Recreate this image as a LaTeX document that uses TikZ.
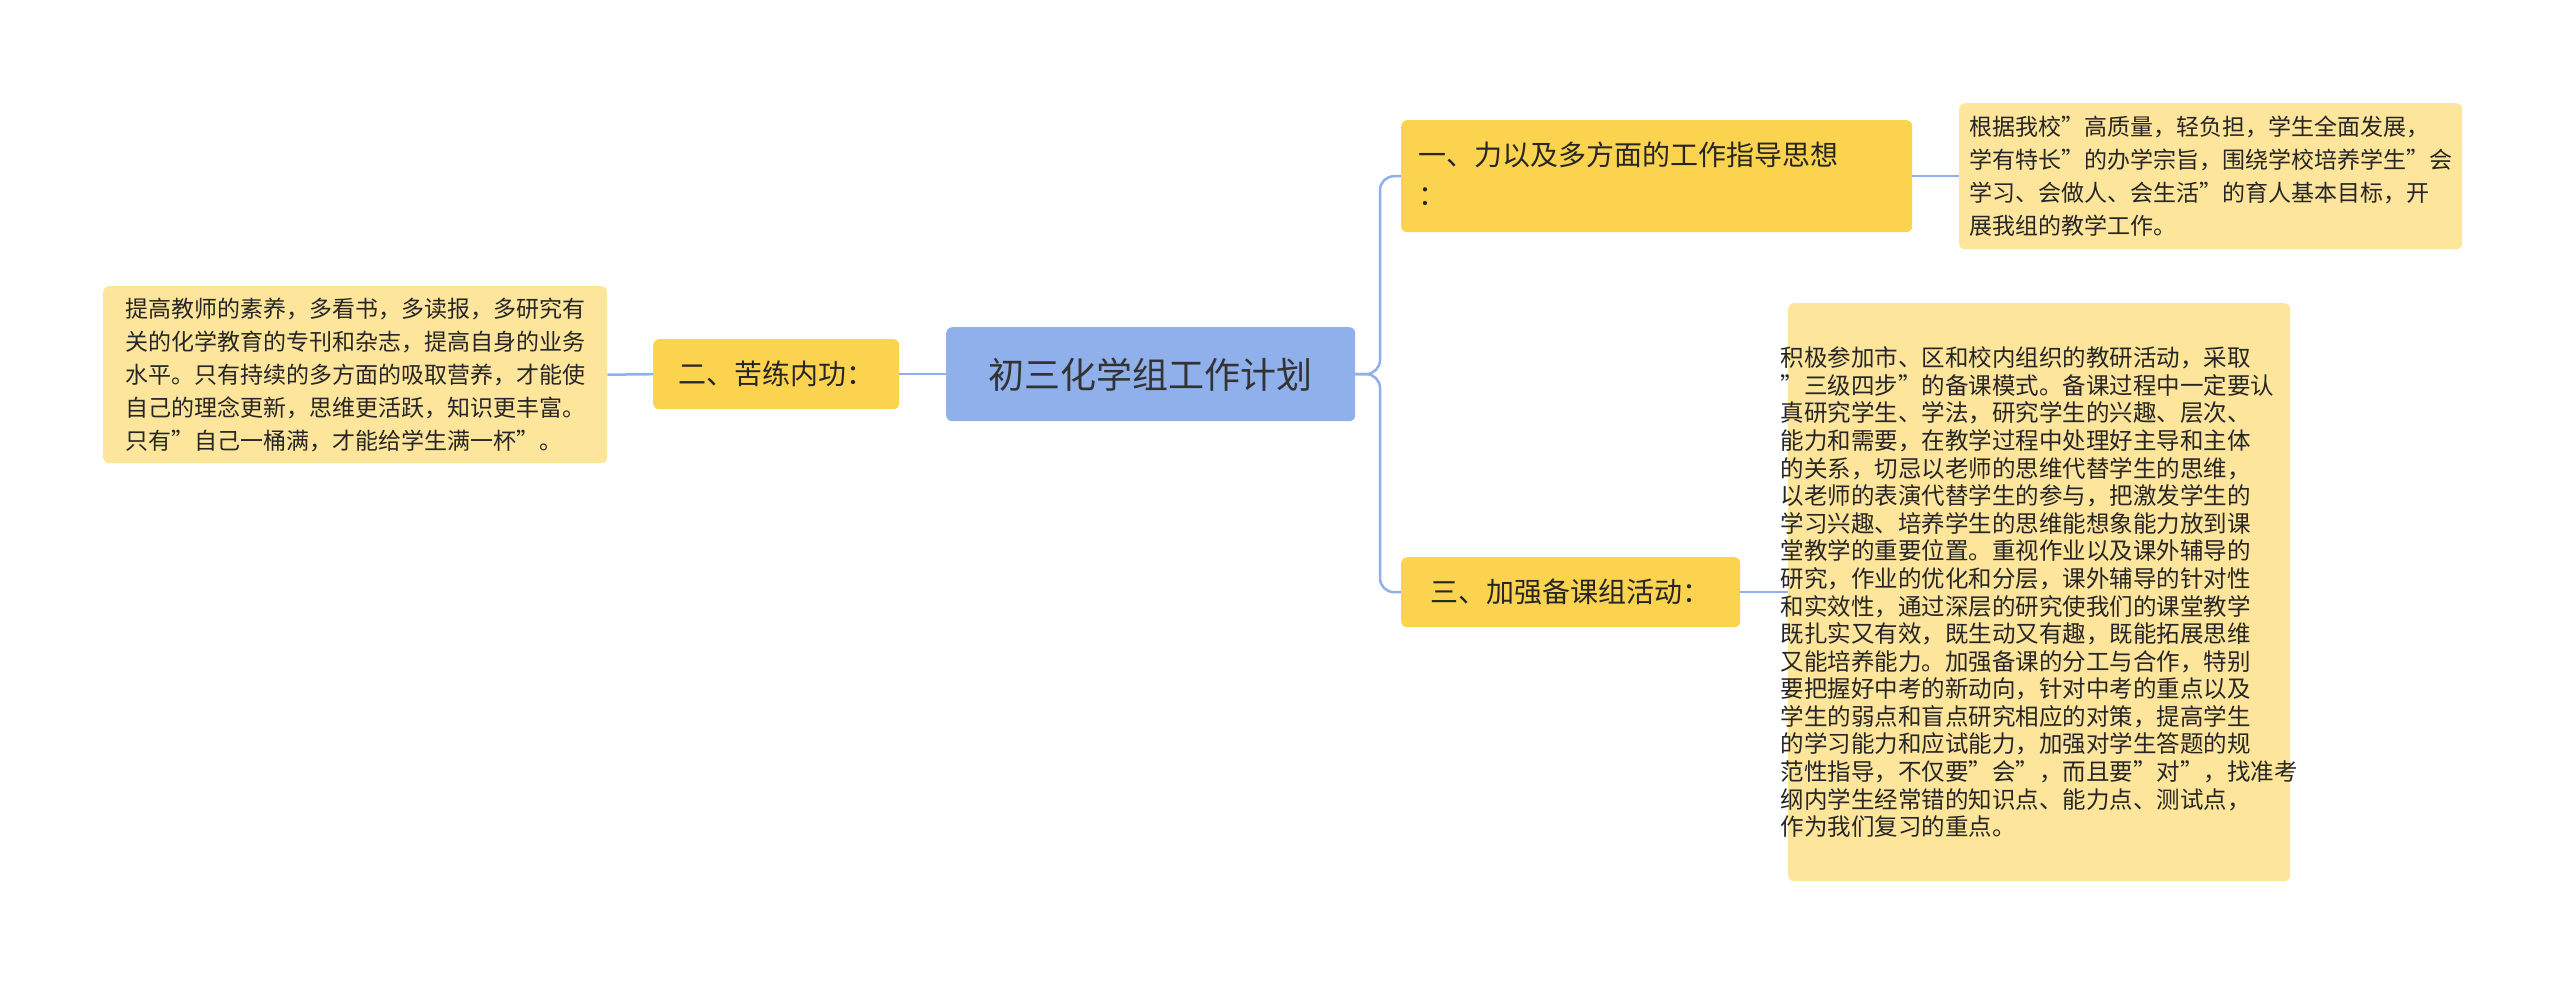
\documentclass[tikz,border=0pt]{standalone}
\usepackage{fontspec}
\setmainfont{Noto Sans CJK SC}
\begin{document}
\begin{tikzpicture}[x=1pt,y=-1pt,
  base/.style={rounded corners=6pt,inner sep=0pt,text=black!85,anchor=north west},
  rootbox/.style={base,fill=rootblue},
  branch/.style={base,fill=branchy},
  leaf/.style={base,fill=leafy},
  conn/.style={draw=rootblue,line width=2.5pt,rounded corners=14pt}]
\definecolor{rootblue}{HTML}{8FB0EA}
\definecolor{branchy}{HTML}{FCD34F}
\definecolor{leafy}{HTML}{FEE59C}
\useasboundingbox (0,0) rectangle (2560,983);
\fill[white] (0,0) rectangle (2560,983);
% root
\node[rootbox,minimum width=409pt,minimum height=94pt] (root) at (946,327) {};
\node[font=\fontsize{36}{40}\selectfont,text=black!80] (roott) at (root.center) {初三化学组工作计划};
% branch 2
\node[branch,minimum width=246pt,minimum height=70pt] (b2) at (653,339) {};
\node[font=\fontsize{28}{32}\selectfont,text=black!85] (b2t) at (b2.center) {二、苦练内功：};
% left leaf
\node[leaf,minimum width=504pt,minimum height=177pt] (l2) at (103,286) {};
\node[font=\fontsize{23}{33}\selectfont,align=left,text=black!85] (l2t) at (l2.center) {提高教师的素养，多看书，多读报，多研究有\\关的化学教育的专刊和杂志，提高自身的业务\\水平。只有持续的多方面的吸取营养，才能使\\自己的理念更新，思维更活跃，知识更丰富。\\只有"自己一桶满，才能给学生满一杯"。};
% branch 1
\node[branch,minimum width=511pt,minimum height=112pt] (b1) at (1401,120) {};
\node[font=\fontsize{28}{40}\selectfont,align=left,anchor=north west,text=black!85] (b1t) at (1415,138) {一、力以及多方面的工作指导思想\\：};
% leaf 1
\node[leaf,minimum width=503pt,minimum height=146pt] (l1) at (1959,103) {};
\node[font=\fontsize{23}{33}\selectfont,align=left,text=black!85] (l1t) at (l1.center) {根据我校"高质量，轻负担，学生全面发展，\\学有特长"的办学宗旨，围绕学校培养学生"会\\学习、会做人、会生活"的育人基本目标，开\\展我组的教学工作。};
% branch 3
\node[branch,minimum width=339pt,minimum height=70pt] (b3) at (1401,557) {};
\node[font=\fontsize{28}{32}\selectfont,text=black!85] (b3t) at (b3.center) {三、加强备课组活动：};
% leaf 3
\node[leaf,minimum width=502pt,minimum height=578pt] (l3) at (1788,303) {};
\node[font=\fontsize{23.5}{27.6}\selectfont,align=left,text=black!85] (l3t) at (l3.center) {积极参加市、区和校内组织的教研活动，采取\\"三级四步"的备课模式。备课过程中一定要认\\真研究学生、学法，研究学生的兴趣、层次、\\能力和需要，在教学过程中处理好主导和主体\\的关系，切忌以老师的思维代替学生的思维，\\以老师的表演代替学生的参与，把激发学生的\\学习兴趣、培养学生的思维能想象能力放到课\\堂教学的重要位置。重视作业以及课外辅导的\\研究，作业的优化和分层，课外辅导的针对性\\和实效性，通过深层的研究使我们的课堂教学\\既扎实又有效，既生动又有趣，既能拓展思维\\又能培养能力。加强备课的分工与合作，特别\\要把握好中考的新动向，针对中考的重点以及\\学生的弱点和盲点研究相应的对策，提高学生\\的学习能力和应试能力，加强对学生答题的规\\范性指导，不仅要"会"，而且要"对"，找准考\\纲内学生经常错的知识点、能力点、测试点，\\作为我们复习的重点。};
% connectors
\coordinate (j) at (1380,374);
\begin{scope}[on background layer/.style={}]
\draw[conn] (root.east) -- (j) |- (b1.west);
\draw[conn] (root.east) -- (j) |- (b3.west);
\draw[conn] (b1.east) -- (l1.west |- b1.east);
\draw[conn] (b3.east) -- (l3.west |- b3.east);
\draw[conn] (root.west) -- (b2.east);
\draw[conn] (b2.west) -- (l2.east);
\end{scope}
\end{tikzpicture}
\end{document}
